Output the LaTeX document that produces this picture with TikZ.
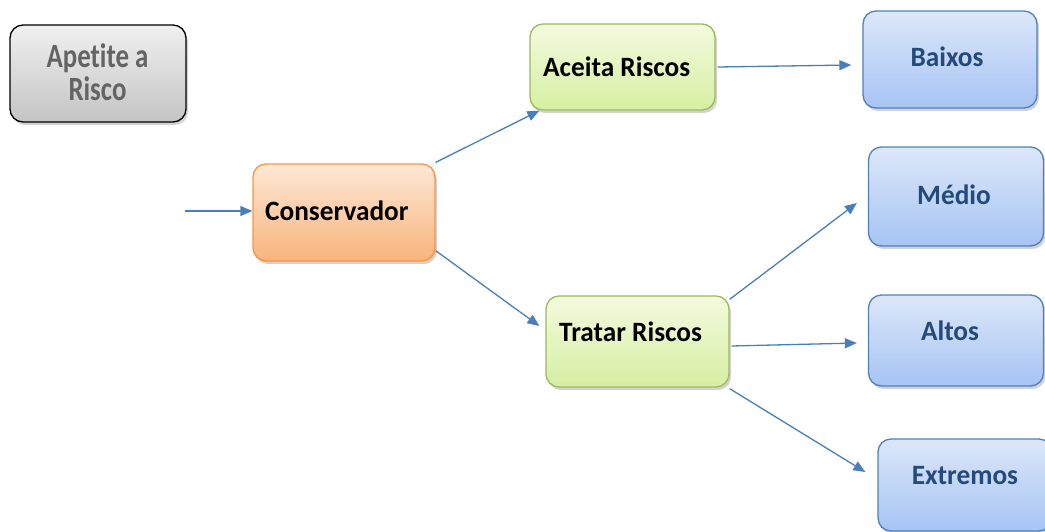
\documentclass[tikz,border=0pt]{standalone}
\usepackage{fontspec}
\setmainfont{Carlito}[Ligatures=NoCommon]
\usetikzlibrary{arrows.meta,shadows,calc}
\definecolor{arrowc}{HTML}{4A7EBB}
\definecolor{grayb}{HTML}{000000}
\definecolor{grayt}{HTML}{F0F0F0}
\definecolor{graybot}{HTML}{C4C4C4}
\definecolor{graytext}{HTML}{646464}
\definecolor{orb}{HTML}{F79646}
\definecolor{ort}{HTML}{FDE8D6}
\definecolor{orbot}{HTML}{F9B37C}
\definecolor{grb}{HTML}{9BBB59}
\definecolor{grt}{HTML}{F3FADF}
\definecolor{grbot}{HTML}{D6EFA2}
\definecolor{blb}{HTML}{4F81BD}
\definecolor{blt}{HTML}{DDE7F9}
\definecolor{blbot}{HTML}{A6C4F4}
\definecolor{bltext}{HTML}{244A7C}
\tikzset{
  box/.style={rectangle, rounded corners=13pt, line width=1.3pt, inner sep=0pt,
    drop shadow={shadow xshift=2pt, shadow yshift=-3pt, opacity=0.35}},
  graybox/.style={box, draw=grayb, top color=grayt, bottom color=graybot},
  orbox/.style={box, draw=orb, top color=ort, bottom color=orbot},
  grbox/.style={box, draw=grb, top color=grt, bottom color=grbot},
  blbox/.style={box, draw=blb, top color=blt, bottom color=blbot},
  lbl/.style={font=\fontsize{28}{30}\selectfont\bfseries, inner sep=0pt},
  conn/.style={draw=arrowc, line width=1.3pt, -{Triangle[length=12pt,width=10pt]}}
}
\begin{document}
\begin{tikzpicture}[x=1pt,y=-1pt]
\useasboundingbox (0,0) rectangle (1045,531);
% boxes
\node[graybox, minimum width=176pt, minimum height=97pt] (apetite) at (98,73.5) {};
\node[inner sep=0pt, text=graytext, font=\fontsize{34}{34}\selectfont\bfseries] (apetiteT) at (97.5,77.5)
  {\scalebox{0.79}[1]{\begin{tabular}{@{}c@{}}Apetite a\\[-1pt]Risco\end{tabular}}};
\node[orbox, minimum width=182pt, minimum height=97pt] (cons) at (344,212.5) {};
\node[lbl, anchor=west] (consT) at (265,211) {\scalebox{0.975}[1]{Conservador}};
\node[grbox, minimum width=185pt, minimum height=86pt] (aceita) at (622.5,67) {};
\node[lbl, anchor=west] (aceitaT) at (543,67) {\scalebox{0.975}[1]{Aceita Riscos}};
\node[grbox, minimum width=183pt, minimum height=91pt] (tratar) at (637.5,341.5) {};
\node[lbl, anchor=west] (tratarT) at (559,332) {\scalebox{0.975}[1]{Tratar Riscos}};
\node[blbox, minimum width=174pt, minimum height=97pt] (baixos) at (950,59.5) {};
\node[lbl, text=bltext] (baixosT) at (947,57) {\scalebox{0.975}[1]{Baixos}};
\node[blbox, minimum width=175pt, minimum height=99pt] (medio) at (956,196.5) {};
\node[lbl, text=bltext] (medioT) at (954,195) {\scalebox{0.975}[1]{Médio}};
\node[blbox, minimum width=175pt, minimum height=91pt] (altos) at (956,340.5) {};
\node[lbl, text=bltext] (altosT) at (950,331) {\scalebox{0.975}[1]{Altos}};
\node[blbox, minimum width=174pt, minimum height=92pt] (extremos) at (965,485) {};
\node[lbl, text=bltext] (extremosT) at (965,476) {\scalebox{0.975}[1]{Extremos}};
% connectors
\coordinate (in) at (185,211);
\draw[conn] (in) -- ($(cons.west)+(0,-1.5)$);
\draw[conn] ($(cons.north east)+(0,-1)$) -- ($(aceita.south west)+(10,0)$);
\draw[conn] ($(cons.south east)+(0,-11)$) -- ($(tratar.west)+(-6,-15.5)$);
\draw[conn] ($(aceita.east)+(2,0)$) -- ($(baixos.west)+(-11,5.5)$);
\draw[conn] ($(tratar.north east)+(0,4)$) -- ($(medio.west)+(-11,6.5)$);
\draw[conn] ($(tratar.east)+(2,4.5)$) -- ($(altos.west)+(-11,2.5)$);
\draw[conn] ($(tratar.south east)+(0,1)$) -- ($(extremos.west)+(-12,-13)$);
\end{tikzpicture}
\end{document}
